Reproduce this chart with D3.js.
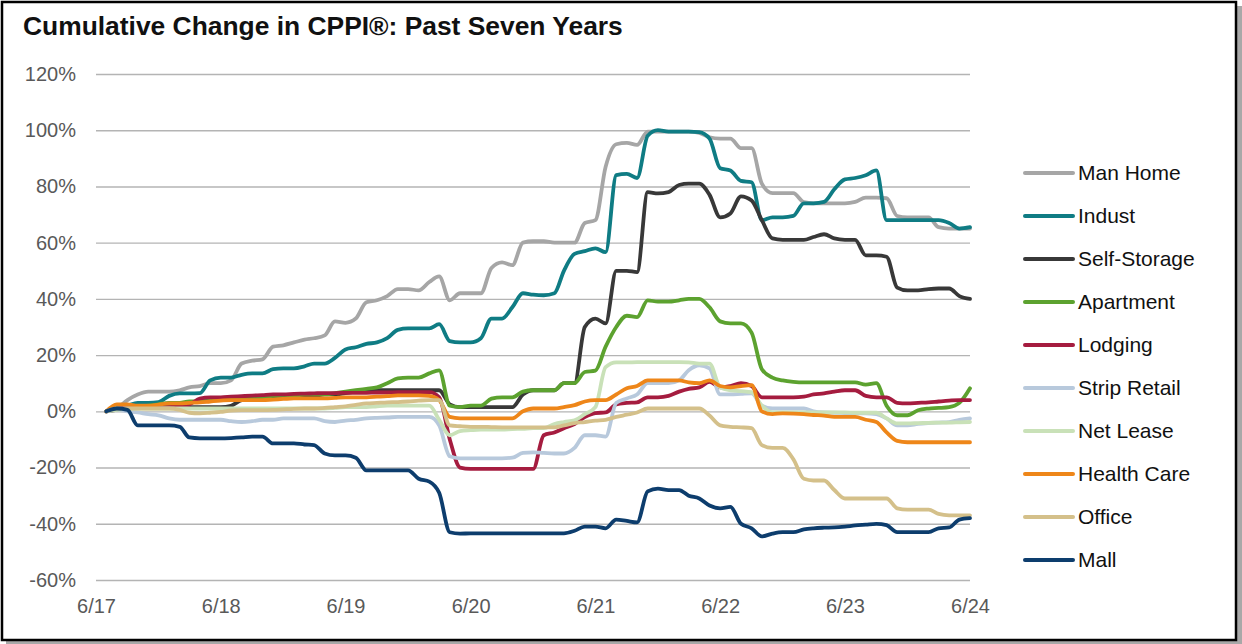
<!DOCTYPE html>
<html>
<head>
<meta charset="utf-8">
<script src="https://cdn.jsdelivr.net/npm/d3@7"></script>
<style>
	body { margin: 0; background: #fff; }
	text { font-family: "Liberation Sans", Arial, sans-serif; }
</style>
</head>
<body>
<div id="chart"></div>
<script>
// monthly cumulative change (%) from 7/17 to 6/24
var seriesNames = ["Man Home", "Indust", "Self-Storage", "Apartment", "Lodging",
				   "Strip Retail", "Net Lease", "Health Care", "Office", "Mall"];
var seriesColors = ["#a6a6a6", "#0f7c84", "#383838", "#5ca22f", "#a51c3f",
					"#b8c9dc", "#c9e1b8", "#ee8619", "#d4c08a", "#0d3d6d"];

var manHome = [0,1,4,6,7,7,7,7.5,8.5,9, 10,10,11,17,18,18.5,23,23.5,24.5,25.5,
	26,27,32,31.5,33,38.8,39.5,41,43.5,43.5, 43,46,48,39.5,42,42,42,51,53,52,
	60,60.5,60.5,60,60,60,67,68,87,95, 95.5,94.8,99.5,99.5,99.5,99.5,99.5,99,97.5,97,
	97,93.6,93.6,81,77.6,77.6,77.6,74.4,74,74, 74,74,74.5,76,76,75.8,69.5,69,69,69,
	65.5,65,65,65];
var indust = [0,1,2,3,3,3.3,5.5,6.4,6.4,6.5, 11,12,12,13,13.5,13.5,15,15.3,15.3,16,
	17,17,19,22,22.8,24,24.5,26,29,29.5, 29.5,29.5,31,25,24.5,24.5,26,33,33,37,
	42,41.5,41.3,42,50,56,57,58,56.6,84, 84.5,83,98,100,99.5,99.5,99.5,99.3,97,86.5,
	85.7,82,81.5,68,69,69,69.5,74,74,74.5, 79,82.5,83,84,85.7,68,68,68,68,68,
	68,67,65,65.5];
var selfStorage = [0,0.5,1,1.5,1.5,1.5,1.5,1.5,1.5,1.5, 1.5,1.5,2,4,4.5,5,5,5,5.5,5.5,
	5.5,6,6,6.5,7,7.5,7.5,7.5,7.5,7.5, 7.5,7.5,7.5,2.5,1.5,1.5,1.5,1.5,1.5,1.5,
	6,7.5,7.5,7.5,10,10,30,33,31.3,50, 50,49.5,78,77.5,78,80.5,81,81,77,69,
	70.4,76.5,75,68,61.5,61,61,61,62,63, 61.5,61,61,55.5,55.5,55,44,43,43,43.5,
	43.7,43.7,41,40];
var apartment = [0,1,1,1.5,2,2.5,3,3,3.5,3.5, 4,4.5,5,5,5,5,5.5,5.5,5.5,6,
	6,6,6.5,7,7.5,8,8.5,10,11.7,12, 12,13.5,14.6,2,1.5,2,2,4.5,5,5,
	7,7.5,7.5,7.5,10,10,14,14.5,23,30, 34,33.5,39.5,39,39,39.5,40,40,37,32,
	31.3,31.3,28,15,12,11,10.5,10.3,10.3,10.3, 10.3,10.3,10.3,9.5,10,2,-1.4,-1.4,0.4,1,
	1.2,1.5,3,8.2];
var lodging = [0,1,1.5,1.5,1.5,1.5,1.5,2,2.5,4.5, 5,5,5.2,5.4,5.6,5.8,6,6,6.2,6.3,
	6.4,6.5,6.5,6.6,6.6,6.6,6.7,6.7,6.8,6.8, 6.8,6.8,5,-10,-20,-20.5,-20.5,-20.5,-20.5,-20.5,
	-20.5,-20.5,-8.5,-7.5,-6,-4.5,-2,-0.6,-0.4,2.5, 3,3.2,5,5,5.5,7,8,8.5,10.5,8.5,
	9,10,9,5,5,5,5,5.2,6,6.4, 7,7.5,7.5,5.5,5,5,3,2.8,3,3.2,
	3.5,3.8,4,4];
var stripRetail = [0,0.5,0,-0.4,-1,-1.4,-2.5,-3,-3,-3, -3,-3,-3.5,-3.8,-3.5,-3,-3,-2.5,-2.5,-2.5,
	-2.5,-3.5,-3.8,-3.3,-3,-2.5,-2.3,-2.2,-2,-2, -2,-2,-5,-16,-16.7,-16.7,-16.7,-16.7,-16.7,-16.5,
	-14.8,-14.6,-14.8,-15,-15,-13,-8.5,-8.5,-9,3, 4.6,6,10,10,10,11,14.6,16.4,15.3,6,
	6,6.2,6.4,2,1,1,1,1,0,-0.4, -0.5,-0.6,-0.7,-0.7,-1,-2.5,-5,-5,-4.5,-4.2,
	-4,-3.8,-3,-2.5];
var netLease = [0,0.5,1,1,1,1,1,1,1,1, 1,1,1,1,1,1,1,1,1,1,
	1,1,1.2,1.5,1.5,1.5,1.8,2,2,2, 2,2,-3,-8.5,-7,-6.7,-6.5,-6.5,-6.5,-6.3,
	-6.2,-6,-6,-4.5,-3.8,-3.2,-1,1.5,15.7,17.4, 17.4,17.5,17.5,17.5,17.5,17.5,17.4,17,17,8.5,
	7.5,7.2,6.8,2,-0.4,-0.4,-0.4,-0.4,-0.4,-0.4, -0.4,-0.4,-0.5,-0.5,-0.5,-2.5,-4.3,-4.3,-4.2,-4.1,
	-4,-4,-3.9,-3.8];
var healthCare = [0,2.5,2.5,2,2,2.4,2.8,2.8,3,3.2, 3.5,3.8,4,4,4,4,4.2,4.4,4.6,4.6,
	4.6,4.6,4.8,5,5,5,5.2,5.4,5.7,5.7, 5.7,5.5,4,-2,-2.5,-2.5,-2.5,-2.5,-2.5,-2.5,
	0,1,1,1,1.5,2.2,3.5,4,4,6, 8.2,9,11,11,11,11,10.3,10,11,9,
	8.5,9,9.3,0,-1,-0.7,-0.8,-1,-1.3,-1.5, -2,-2,-2,-3,-3.8,-7.5,-10.5,-11,-11,-11,
	-11,-11,-11,-11];
var office = [0,1,1,1,1,1,1,0.5,-0.5,-0.7, -0.5,-0.2,0.3,0.4,0.4,0.4,0.5,0.7,0.9,1,
	1,1.2,1.5,1.8,2.3,2.8,3,3.2,3.3,3.5, 3.8,4,4,-5,-5.3,-5.5,-5.5,-5.6,-5.7,-5.7,
	-5.7,-5.7,-5.7,-5.7,-5,-4.2,-3.8,-3.3,-3,-2, -1.2,-0.4,1,1,1,1,1,1,-1.5,-5,
	-5.5,-5.7,-6,-12,-13,-13,-17,-24,-24.6,-24.6, -28,-31,-31,-31,-31,-31,-34.5,-35,-35,-35,
	-36.5,-37,-37,-37];
var mall = [0,1,0.5,-5,-5,-5,-5,-5.5,-9.3,-9.6, -9.6,-9.6,-9.5,-9.3,-9,-9,-11.4,-11.4,-11.4,-11.8,
	-12,-15,-15.7,-15.7,-16.5,-21,-21,-21,-21,-21, -24,-25,-29,-43,-43.5,-43.4,-43.4,-43.4,-43.4,-43.4,
	-43.4,-43.4,-43.4,-43.4,-43.4,-42.5,-41,-41,-41.6,-38.5, -39,-39.5,-28.5,-27.5,-28,-28,-30,-31,-33.5,-34.5,
	-34,-40,-41.6,-44.5,-43.5,-43,-43,-42,-41.6,-41.4, -41.3,-41,-40.6,-40.3,-40,-40.5,-43,-43,-43,-43,
	-41.6,-41.3,-38.5,-38];

var yTicks = [-60, -40, -20, 0, 20, 40, 60, 80, 100, 120];

var allSeries = [manHome, indust, selfStorage, apartment, lodging,
				 stripRetail, netLease, healthCare, office, mall];

// months: Jul 2017 .. Jun 2024
var months = d3.range(84).map(k => new Date(2017, 6 + k, 1));
var xTicks = d3.range(8).map(k => new Date(2017 + k, 5, 1));

var w = 1242;
var h = 644;

var svg = d3.select("#chart")
			.append("svg")
			.attr("width", w)
			.attr("height", h);

// frame with drop shadow
svg.append("rect")
	.attr("x", 6).attr("y", 6)
	.attr("width", 1236).attr("height", 638)
	.attr("fill", "#a8a8a8");
svg.append("rect")
	.attr("x", 2).attr("y", 2)
	.attr("width", 1234).attr("height", 638)
	.attr("fill", "white")
	.attr("stroke", "black")
	.attr("stroke-width", 2.5);

svg.append("text")
	.attr("x", 23)
	.attr("y", 35)
	.attr("font-size", "26.4px")
	.attr("font-weight", "bold")
	.attr("fill", "#111")
	.text("Cumulative Change in CPPI®: Past Seven Years");

var x = d3.scaleTime()
		  .domain([new Date(2017, 5, 1), new Date(2024, 5, 1)])
		  .range([96, 970]);
var y = d3.scaleLinear()
		  .domain([-60, 120])
		  .range([580, 74]);

var yAxis = svg.append("g")
	.attr("transform", "translate(96,0)")
	.call(d3.axisLeft(y)
			.tickValues(yTicks)
			.tickSize(-874)
			.tickPadding(20)
			.tickFormat(d => d + "%"));
yAxis.select(".domain").remove();
yAxis.selectAll("line")
	.attr("stroke", "#b4b4b4")
	.attr("stroke-width", 1.4);
yAxis.selectAll("text")
	.attr("font-size", "20px")
	.attr("fill", "#595959")
	.style("font-family", "'Liberation Sans', Arial, sans-serif");

var xAxis = svg.append("g")
	.attr("transform", "translate(0,580)")
	.call(d3.axisBottom(x)
			.tickValues(xTicks)
			.tickSize(0)
			.tickPadding(19)
			.tickFormat(d3.timeFormat("%-m/%y")));
xAxis.select(".domain").remove();
xAxis.selectAll("text")
	.attr("font-size", "20px")
	.attr("fill", "#595959")
	.style("font-family", "'Liberation Sans', Arial, sans-serif");

var line = d3.line()
			 .x((d, i) => x(months[i]))
			 .y(d => y(d))
			 .curve(d3.curveMonotoneX);

svg.selectAll("path.series")
	.data(allSeries)
	.enter()
	.append("path")
	.attr("class", "series")
	.attr("d", line)
	.attr("fill", "none")
	.attr("stroke", (d, i) => seriesColors[i])
	.attr("stroke-width", 3.8)
	.attr("stroke-linejoin", "round")
	.attr("stroke-linecap", "round");

var legend = svg.selectAll("g.legend")
	.data(seriesNames)
	.enter()
	.append("g")
	.attr("class", "legend")
	.attr("transform", (d, i) => "translate(0," + (173 + i * 43) + ")");
legend.append("line")
	.attr("x1", 1025).attr("x2", 1073)
	.attr("y1", 0).attr("y2", 0)
	.attr("stroke", (d, i) => seriesColors[i])
	.attr("stroke-width", 4)
	.attr("stroke-linecap", "round");
legend.append("text")
	.attr("x", 1078)
	.attr("dy", "0.35em")
	.attr("font-size", "21px")
	.attr("fill", "#111")
	.text(d => d);
</script>
</body>
</html>
